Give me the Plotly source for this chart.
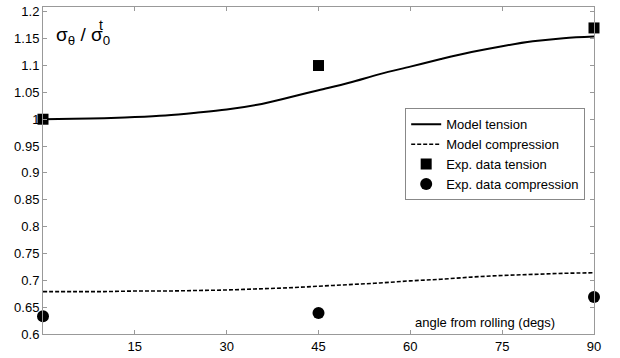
import plotly.graph_objects as go

# Model curves (angle in degrees)
model_angle = [0, 5, 10, 15, 20, 25, 30, 35, 40, 45, 50, 55, 60, 65, 70, 75, 80, 85, 90]
model_tension = [1.000, 1.001, 1.002, 1.004, 1.007, 1.012, 1.018, 1.027, 1.040, 1.054,
                 1.068, 1.084, 1.098, 1.112, 1.125, 1.136, 1.145, 1.151, 1.154]
model_compression = [0.679, 0.679, 0.679, 0.680, 0.680, 0.681, 0.682, 0.684, 0.686, 0.689,
                     0.692, 0.695, 0.699, 0.702, 0.706, 0.709, 0.711, 0.713, 0.714]

# Experimental data
exp_angle = [0, 45, 90]
exp_tension = [1.0, 1.1, 1.17]
exp_compression = [0.633, 0.639, 0.669]

x_ticks = [15, 30, 45, 60, 75, 90]
y_ticks = [0.6, 0.65, 0.7, 0.75, 0.8, 0.85, 0.9, 0.95, 1.0, 1.05, 1.1, 1.15, 1.2]
y_ticktext = ["0.6", "0.65", "0.7", "0.75", "0.8", "0.85", "0.9", "0.95", "1", "1.05", "1.1", "1.15", "1.2"]

font = "Liberation Sans, Arial, sans-serif"

fig = go.Figure()
fig.add_trace(go.Scatter(x=model_angle, y=model_tension, mode="lines", name="Model tension",
                         line=dict(color="black", width=2, shape="spline")))
fig.add_trace(go.Scatter(x=model_angle, y=model_compression, mode="lines", name="Model compression",
                         line=dict(color="black", width=1.6, dash="4px,2px", shape="spline")))
fig.add_trace(go.Scatter(x=exp_angle, y=exp_tension, mode="markers", name="Exp. data tension",
                         marker=dict(symbol="square", size=11, color="black"), cliponaxis=False))
fig.add_trace(go.Scatter(x=exp_angle, y=exp_compression, mode="markers", name="Exp. data compression",
                         marker=dict(symbol="circle", size=12, color="black"), cliponaxis=False))

axis_common = dict(showline=True, linecolor="#999999", linewidth=1, mirror="ticks",
                   ticks="inside", ticklen=4, tickcolor="#999999", showgrid=False,
                   zeroline=False, tickfont=dict(family=font, size=13, color="black"))

fig.update_xaxes(range=[0, 90], tickvals=x_ticks, **axis_common)
fig.update_yaxes(range=[0.6, 1.209], tickvals=y_ticks, ticktext=y_ticktext, **axis_common)

fig.add_annotation(xref="paper", yref="paper", x=0.02, y=0.912, xanchor="left", yanchor="middle",
                   text="σ<sub>θ</sub> / σ<sub>0</sub>", showarrow=False,
                   font=dict(family=font, size=19, color="black"))
fig.add_annotation(xref="paper", yref="paper", x=0.098, y=0.945, xanchor="left", yanchor="middle",
                   text="t", showarrow=False, font=dict(family=font, size=14, color="black"))
fig.add_annotation(xref="paper", yref="paper", x=0.803, y=0.035, xanchor="center", yanchor="middle",
                   text="angle from rolling (degs)", showarrow=False,
                   font=dict(family=font, size=13, color="black"))

fig.update_layout(
    width=620, height=358,
    margin=dict(l=43, r=26, t=4, b=23),
    plot_bgcolor="white", paper_bgcolor="white",
    showlegend=True,
    legend=dict(x=0.984, y=0.69, xanchor="right", yanchor="top",
                bgcolor="white", bordercolor="#888888", borderwidth=1,
                font=dict(family=font, size=13, color="black"),
                tracegroupgap=0, itemwidth=30),
)

fig.write_html("out.html", config={"displayModeBar": False},
               post_script="document.body.style.margin='0';")
